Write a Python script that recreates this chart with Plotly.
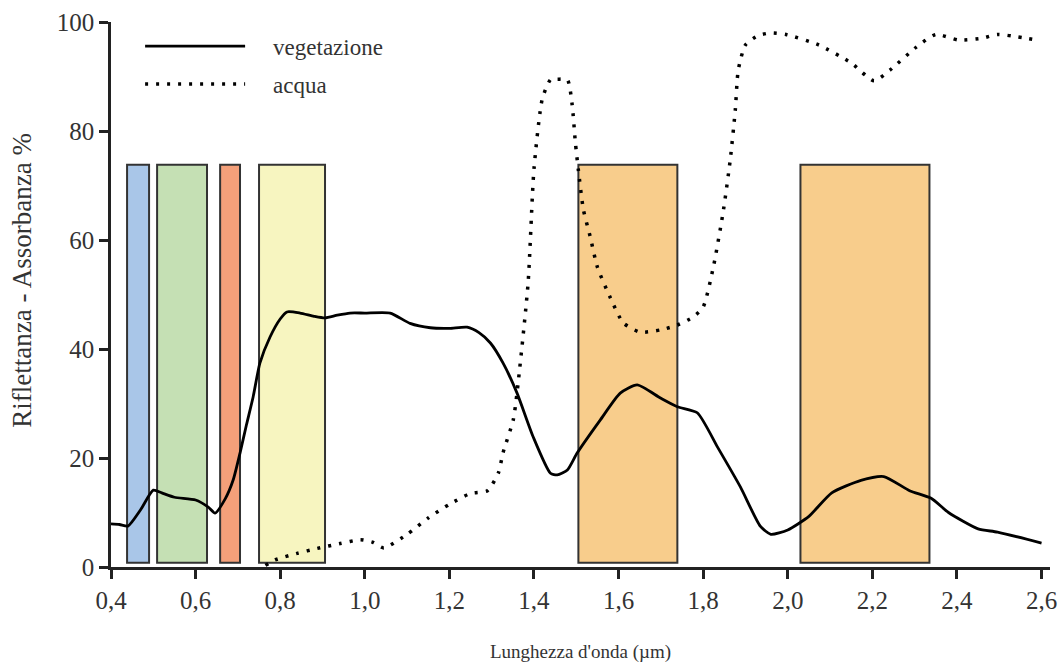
import plotly.graph_objects as go

# Vegetation reflectance
veg_x = [0.40, 0.42, 0.44, 0.47, 0.50, 0.52, 0.55, 0.60, 0.63, 0.646, 0.67, 0.689, 0.705, 0.72,
         0.736, 0.752, 0.776, 0.80, 0.816, 0.847, 0.88, 0.906, 0.935, 0.965, 1.00, 1.06, 1.107,
         1.155, 1.20, 1.242, 1.27, 1.297, 1.327, 1.36, 1.398, 1.439, 1.455, 1.479, 1.502, 1.557,
         1.604, 1.644, 1.699, 1.739, 1.786, 1.834, 1.888, 1.935, 1.96, 2.00, 2.05, 2.104, 2.173,
         2.227, 2.288, 2.339, 2.38, 2.45, 2.496, 2.60]
veg_y = [7.9, 7.8, 7.5, 10.5, 14.1, 13.6, 12.8, 12.3, 11.0, 9.9, 12.5, 16.0, 20.9, 26.0,
         31.2, 37.4, 42.2, 45.5, 46.8, 46.6, 46.0, 45.7, 46.2, 46.6, 46.6, 46.6, 44.7,
         43.9, 43.8, 44.0, 43.0, 41.1, 37.4, 31.9, 23.9, 17.2, 16.9, 17.8, 20.9, 27.0,
         31.9, 33.4, 31.0, 29.4, 28.3, 22.0, 14.7, 7.5, 6.0, 6.8, 9.3, 13.6, 15.9,
         16.6, 14.0, 12.6, 10.0, 7.0, 6.4, 4.4]

# Water absorbance
acq_x = [0.765, 0.788, 0.84, 0.887, 0.942, 0.99, 1.02, 1.045, 1.10, 1.15, 1.20, 1.25, 1.29,
         1.316, 1.327, 1.351, 1.36, 1.386, 1.40, 1.42, 1.44, 1.455, 1.479, 1.49, 1.498, 1.505,
         1.517, 1.533, 1.55, 1.58, 1.611, 1.651, 1.699, 1.739, 1.777, 1.80, 1.824, 1.848, 1.864,
         1.876, 1.883, 1.90, 1.93, 1.96, 1.996, 2.073, 2.15, 2.204, 2.242, 2.304, 2.35, 2.404,
         2.458, 2.496, 2.588]
acq_y = [0.3, 1.3, 2.5, 3.4, 4.3, 5.0, 4.5, 3.5, 6.0, 9.0, 11.5, 13.5, 14.0,
         17.3, 21.0, 27.0, 32.0, 52.0, 73.0, 86.0, 89.5, 89.5, 89.4, 85.0, 77.8, 72.8,
         65.5, 60.6, 55.0, 49.5, 44.8, 43.1, 43.5, 44.4, 45.9, 47.7, 55.0, 65.5, 74.7,
         83.9, 91.2, 95.8, 97.5, 98.0, 97.7, 95.8, 92.5, 89.2, 91.2, 95.4, 97.7, 96.7,
         97.0, 97.7, 96.7]

# Spectral bands
band_start = [0.438, 0.509, 0.658, 0.75, 1.505, 2.03]
band_end = [0.49, 0.627, 0.705, 0.906, 1.739, 2.335]
band_low = 0.8
band_high = 73.8
band_colors = ["#a9c6e8", "#c5e0b4", "#f4a07a", "#f7f5c0", "#f8cd8c", "#f8cd8c"]

x_ticks = [0.4, 0.6, 0.8, 1.0, 1.2, 1.4, 1.6, 1.8, 2.0, 2.2, 2.4, 2.6]
x_ticklabels = ["0,4", "0,6", "0,8", "1,0", "1,2", "1,4", "1,6", "1,8", "2,0", "2,2", "2,4", "2,6"]
y_ticks = [0, 20, 40, 60, 80, 100]

SERIF = "Liberation Serif, DejaVu Serif, Times New Roman, serif"
NB = "\u00a0" * 4

fig = go.Figure()

for s, e, c in zip(band_start, band_end, band_colors):
    fig.add_shape(type="rect", x0=s, x1=e, y0=band_low, y1=band_high,
                  xref="x", yref="y", fillcolor=c, line=dict(color="#333333", width=2),
                  layer="below")

fig.add_trace(go.Scatter(x=veg_x, y=veg_y, mode="lines", name=NB + "vegetazione",
                         legendgroup="v",
                         line=dict(color="black", width=2.8, shape="spline", smoothing=0.6)))
fig.add_trace(go.Scatter(x=acq_x, y=acq_y, mode="lines", name=NB + "acqua",
                         legendgroup="a",
                         line=dict(color="black", width=3.5, dash="3px,8px", shape="spline", smoothing=0.6)))

fig.update_layout(
    width=1060, height=669,
    margin=dict(l=111, r=10, t=22, b=102, autoexpand=False),
    paper_bgcolor="white", plot_bgcolor="white",
    font=dict(family=SERIF, color="#333333"),
    showlegend=True,
    legend=dict(x=0.031, y=0.995, xanchor="left", yanchor="top",
                font=dict(family=SERIF, size=23, color="#333333"),
                itemwidth=100, bgcolor="rgba(0,0,0,0)", tracegroupgap=5),
    xaxis=dict(range=[0.4, 2.62], tickvals=x_ticks, ticktext=x_ticklabels, automargin=False,
               showgrid=False, zeroline=False, showline=True, linecolor="#222222", linewidth=2.5,
               ticks="outside", ticklen=9, tickwidth=2.5, tickcolor="#222222",
               tickfont=dict(family=SERIF, size=25, color="#333333")),
    yaxis=dict(range=[0, 100], tickvals=y_ticks, automargin=False,
               showgrid=False, zeroline=False, showline=True, linecolor="#222222", linewidth=2.5,
               ticks="outside", ticklen=9, tickwidth=2.5, tickcolor="#222222",
               tickfont=dict(family=SERIF, size=25, color="#333333")),
    annotations=[
        dict(text="Lunghezza d'onda (µm)", xref="paper", yref="paper", x=0.4995, y=-0.156,
             xanchor="center", yanchor="middle", showarrow=False,
             font=dict(family=SERIF, size=19, color="#333333")),
        dict(text="Riflettanza - Assorbanza %", xref="paper", yref="paper", x=-0.0948, y=0.527,
             xanchor="center", yanchor="middle", textangle=-90, showarrow=False,
             font=dict(family=SERIF, size=27, color="#333333")),
    ],
)

fig.write_html("out.html",
               config={"displayModeBar": False},
               post_script="document.body.style.margin='0px';"
                           "document.body.style.overflow='hidden';"
                           "document.documentElement.style.overflow='hidden';")
